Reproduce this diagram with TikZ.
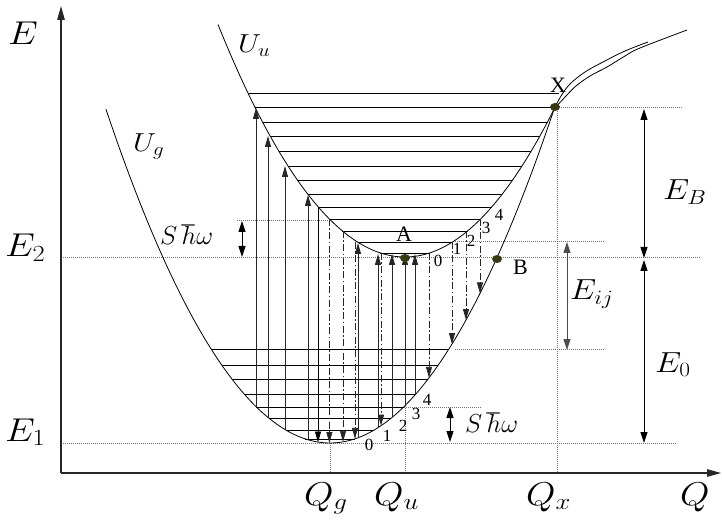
\RequirePackage{fix-cm}
\documentclass[tikz,border=0pt]{standalone}
\usepackage{graphicx}
\usepackage{fontspec}
\setmainfont{Liberation Serif}
\usetikzlibrary{arrows.meta,shapes.geometric}
\definecolor{dotc}{RGB}{58,58,18}
\newcommand\wdr[1]{\scalebox{1.15}[1]{#1}}
\begin{document}
\begin{tikzpicture}[x=1pt,y=-1pt,
  curve/.style={black,line width=0.8pt},
  lvl/.style={black,line width=0.95pt},
  dotl/.style={black!55,line width=0.6pt,dash pattern=on 1pt off 1pt},
  axis/.style={black!85,line width=1.1pt,-{Triangle[length=14pt,width=7.5pt]}},
  uparr/.style={black!85,line width=0.85pt,-{Triangle[length=11pt,width=6pt]}},
  dnsolid/.style={black,line width=0.85pt,-{Triangle[length=11pt,width=6pt]}},
  dnarr/.style={black!85,line width=0.85pt,dash pattern=on 7pt off 2.5pt on 1.5pt off 2.5pt,-{Triangle[length=11pt,width=6pt]}},
  dblarr/.style={black,line width=0.85pt,{Triangle[length=11pt,width=7pt]}-{Triangle[length=11pt,width=7pt]}},
  dotn/.style={ellipse,fill=dotc,minimum width=10pt,minimum height=8pt,inner sep=0pt},
  bigm/.style={anchor=base west,inner sep=0pt,font=\fontsize{33}{36}\selectfont},
  midm/.style={anchor=base west,inner sep=0pt,font=\fontsize{29}{32}\selectfont},
  um/.style={anchor=base west,inner sep=0pt,font=\fontsize{26}{28}\selectfont},
  lett/.style={anchor=base west,inner sep=0pt,font=\fontsize{22}{24}\selectfont},
  dig/.style={inner sep=0pt,font=\fontsize{17}{18}\selectfont}
]
\useasboundingbox (0,0) rectangle (722,526);
\fill[white] (0,0) rectangle (722,526);

% dotted guide lines
\draw[dotl] (63,257) -- (700,257);
\draw[dotl] (63,443) -- (677,443);
\draw[dotl] (237,220) -- (330,220);
\draw[dotl] (453,241) -- (605,241);
\draw[dotl] (455,349) -- (605,349);
\draw[dotl] (404,407) -- (482,407);
\draw[dotl] (557,107) -- (682,107);
\draw[dotl] (330,443) -- (330,473);
\draw[dotl] (405,258) -- (405,473);
\draw[dotl] (557,107) -- (557,473);

% axes
\coordinate (O) at (61,473);
\coordinate (Etop) at (61,6);
\coordinate (Qend) at (721,473);
\draw[axis] (O) -- (Etop);
\draw[axis] (O) -- (Qend);

% potential curves
\draw[curve] plot[domain=106:554,samples=120] (\x,{443-66.5*((\x-330)/100)^2});
\draw[curve] plot[domain=218:554,samples=120] (\x,{257-66.5*((\x-405)/100)^2});
\draw[curve] plot[smooth,tension=0.6] coordinates {(554,109) (561,96) (570,84) (585,72) (603,62) (625,51) (648,42)};
\draw[curve] plot[smooth,tension=0.6] coordinates {(554,109) (566,96) (576,86) (590,76) (607,67) (625,56) (640,48) (687,30)};

% vibrational levels of U_u
\foreach \y in {93,107,122,136,151,166,180,194,207,219,231,242,253}{
  \pgfmathsetmacro\w{10*sqrt((257-\y)/0.665)}
  \draw[lvl] ({405-\w},\y) -- ({min(405+\w,559)},\y);
}
% vibrational levels of U_g
\foreach \y in {349,365,379,394,407,418,430,439}{
  \pgfmathsetmacro\w{10*sqrt((443-\y)/0.665)}
  \draw[lvl] ({330-\w},\y) -- ({330+\w},\y);
}

% absorption arrows (up)
\foreach \x/\t in {256/108,268/136,285/166,308/195,358/243,378/254,392/254,405/254,415/254}{
  \pgfmathsetmacro\b{443-66.5*((\x-330)/100)^2}
  \draw[uparr] (\x,\b) -- (\x,\t);
}
% emission arrows (down)
\draw[dnsolid] (318,207) -- (318,442.5);
\foreach \x/\t in {329.4/219,343/231,355/242,381/253,429/253,452/242,466/231,480/219}{
  \pgfmathsetmacro\b{443-66.5*((\x-330)/100)^2}
  \draw[dnarr] (\x,\t) -- (\x,\b);
}

% dimension arrows
\draw[dblarr] (242,221) -- (242,257);
\draw[dblarr] (450,407) -- (450,442);
\draw[dblarr] (644,109) -- (644,258);
\draw[dblarr] (644,260) -- (644,443);
\draw[dblarr,black!70] (567,242) -- (567,350);

% special points
\node[dotn] (A) at (405,258) {};
\node[dotn] (B) at (497,259) {};
\node[dotn] (X) at (555,107) {};

% labels
\node[bigm] (lE) at (8,45) {\wdr{$E$}};
\node[bigm] (lE2) at (5,257) {\wdr{$E_2$}};
\node[bigm] (lE1) at (5,441) {\wdr{$E_1$}};
\node[bigm] (lQg) at (304,505) {\wdr{$Q_g$}};
\node[bigm] (lQu) at (374,505) {\wdr{$Q_u$}};
\node[bigm] (lQx) at (526,505) {\wdr{$Q_x$}};
\node[bigm] (lQ) at (680,505) {\wdr{$Q$}};
\node[um] (lUu) at (238,53) {\wdr{$U_u$}};
\node[um] (lUg) at (133,152) {\wdr{$U_g$}};
\node[um] (lS1) at (160,245) {$S\,\hbar\omega$};
\node[um] (lS2) at (465,432) {$S\,\hbar\omega$};
\node[midm] (lEij) at (570,300) {\wdr{$E_{ij}$}};
\node[midm] (lEB) at (663,200) {\wdr{$E_B$}};
\node[midm] (lE0) at (655,372) {\wdr{$E_0$}};
\node[lett,anchor=base] (lA) at (404,242) {A};
\node[lett] (lB) at (513,275) {B};
\node[lett] (lX) at (550,93) {X};

\node[dig] (u0) at (438,261) {0};
\node[dig] (u1) at (457,249) {1};
\node[dig] (u2) at (471,241) {2};
\node[dig] (u3) at (486,228) {3};
\node[dig] (u4) at (499,215) {4};
\node[dig] (g0) at (369,445) {0};
\node[dig] (g1) at (387,436) {1};
\node[dig] (g2) at (403,426) {2};
\node[dig] (g3) at (416,414) {3};
\node[dig] (g4) at (427,400) {4};
\end{tikzpicture}
\end{document}
